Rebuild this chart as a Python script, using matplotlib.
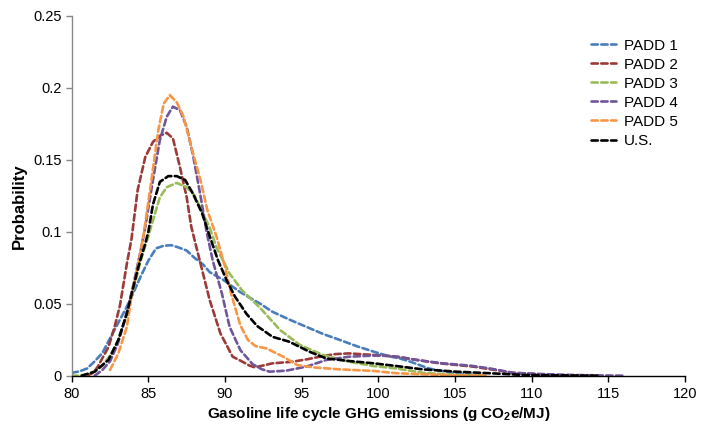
import matplotlib
matplotlib.use("Agg")
import matplotlib.pyplot as plt
from matplotlib.ticker import FixedLocator

plt.rcParams['font.family'] = ['Liberation Sans', 'DejaVu Sans']
plt.rcParams['mathtext.fontset'] = 'custom'
plt.rcParams['mathtext.rm'] = 'Liberation Sans'
plt.rcParams['mathtext.bf'] = 'Liberation Sans:bold'

# ---- data ----
padd1_x = [80, 80.5, 81, 81.5, 82, 82.5, 83, 83.5, 84, 84.5, 85, 85.5, 86, 86.5, 87, 87.5, 88, 88.6,
           89, 89.9, 91, 92.3, 93.1, 94.2, 95.3, 96.4, 97.5, 98.6, 99.7, 100.7, 101.4, 102.1, 103.3,
           104.2, 105.1, 106, 107]
padd1_y = [0.002, 0.003, 0.005, 0.010, 0.0158, 0.026, 0.036, 0.046, 0.057, 0.069, 0.080, 0.0885, 0.0903,
           0.0907, 0.089, 0.087, 0.082, 0.077, 0.072, 0.0665, 0.058, 0.050, 0.0444, 0.039, 0.034, 0.029,
           0.0248, 0.0205, 0.0167, 0.0135, 0.012, 0.0097, 0.005, 0.0032, 0.0017, 0.0008, 0.0]

padd2_x = [81.0, 81.4, 81.7, 82.4, 82.8, 83.15, 83.6, 83.9, 84.0, 84.3, 84.8, 85.3, 85.8, 86.2, 86.6,
           87.06, 87.5, 87.8, 88.4, 89.0, 89.7, 90.5, 91.0, 91.6, 91.95, 93.1, 94.4, 95.4, 96.4, 97.2,
           98.1, 99.7, 101.2, 102.5, 104.0, 106.2, 108.8, 110.5, 112]
padd2_y = [0.0, 0.002, 0.0063, 0.020, 0.034, 0.049, 0.078, 0.095, 0.1035, 0.129, 0.152, 0.1625, 0.167,
           0.1688, 0.165, 0.145, 0.124, 0.1035, 0.078, 0.0526, 0.0294, 0.0132, 0.0105, 0.0070, 0.0058,
           0.0086, 0.0097, 0.0115, 0.0137, 0.015, 0.0155, 0.0144, 0.0132, 0.011, 0.0086, 0.0063, 0.002,
           0.001, 0.0]

padd3_x = [80, 80.5, 81, 81.5, 82, 82.6, 83, 83.5, 84, 84.5, 85, 85.3, 85.75, 86.2, 86.85, 87.5, 88.0,
           88.6, 89.0, 89.45, 90.3, 91.1, 92.3, 93.6, 94.9, 96.4, 98.1, 99.7, 101.2, 102.9, 105, 107]
padd3_y = [0.0, 0.0, 0.001, 0.003, 0.007, 0.0155, 0.024, 0.040, 0.059, 0.080, 0.097, 0.108, 0.124, 0.131,
           0.134, 0.131, 0.1255, 0.112, 0.103, 0.089, 0.071, 0.0595, 0.047, 0.0317, 0.0213, 0.0144,
           0.0097, 0.0067, 0.005, 0.002, 0.0006, 0.0]

padd4_x = [81.5, 82, 82.5, 83, 83.5, 84.0, 84.5, 84.8, 85.3, 85.75, 86.2, 86.6, 87.06, 87.5, 87.9, 88.4,
           88.8, 89.2, 89.8, 90.3, 91.0, 91.8, 92.4, 92.9, 94.0, 95.3, 96.6, 98.1, 99.7, 100.7, 101.5,
           102.5, 104.2, 106.0, 107.3, 108.8, 110.5, 112.7, 114.5, 116]
padd4_y = [0.0, 0.004, 0.010, 0.022, 0.040, 0.062, 0.087, 0.1035, 0.136, 0.1637, 0.180, 0.187, 0.1845,
           0.173, 0.154, 0.125, 0.100, 0.080, 0.057, 0.034, 0.0178, 0.0080, 0.0045, 0.0028, 0.0035,
           0.0063, 0.0109, 0.0132, 0.014, 0.0138, 0.0128, 0.0109, 0.0086, 0.007, 0.005, 0.002, 0.0012,
           0.0005, 0.0002, 0.0]

padd5_x = [82.5, 83.04, 83.6, 83.9, 84.35, 84.7, 85.2, 85.65, 86.0, 86.4, 86.85, 87.3, 87.8, 88.4, 88.85,
           89.45, 90.0, 90.4, 91.0, 91.5, 92.0, 92.7, 93.8, 94.7, 95.75, 97.5, 99.7, 101.2, 102.9, 105, 107]
padd5_y = [0.004, 0.0155, 0.034, 0.055, 0.078, 0.0985, 0.136, 0.1706, 0.189, 0.195, 0.190, 0.180, 0.159,
           0.136, 0.115, 0.0965, 0.0757, 0.057, 0.035, 0.0248, 0.0205, 0.019, 0.0132, 0.0074, 0.0058,
           0.0044, 0.0033, 0.0017, 0.001, 0.0003, 0.0]

us_x = [80.65, 81.5, 82.4, 83.04, 83.6, 84.0, 84.35, 84.8, 85.0, 85.3, 85.75, 86.3, 86.85, 87.4, 87.9,
        88.5, 89.0, 89.55, 90.1, 90.65, 91.4, 92.1, 93.1, 94.2, 95.5, 96.6, 98.1, 99.7, 101.2, 102.9,
        105.1, 107.3, 109.5, 112, 114.4]
us_y = [0.0, 0.0028, 0.011, 0.0248, 0.0433, 0.0607, 0.0757, 0.092, 0.100, 0.119, 0.1347, 0.1387, 0.1387,
        0.136, 0.1267, 0.113, 0.097, 0.080, 0.0665, 0.055, 0.043, 0.0345, 0.027, 0.0236, 0.0167, 0.012,
        0.0102, 0.0086, 0.0067, 0.0044, 0.0028, 0.0017, 0.0005, 0.0002, 0.0]

series_labels = ["PADD 1", "PADD 2", "PADD 3", "PADD 4", "PADD 5", "U.S."]
series_colors = ["#4a7ebb", "#9b3a38", "#9bbb59", "#6f559a", "#f79646", "#000000"]

x_ticks = [80, 85, 90, 95, 100, 105, 110, 115, 120]
y_ticks = [0, 0.05, 0.1, 0.15, 0.2, 0.25]
y_tick_labels = ["0", "0.05", "0.1", "0.15", "0.2", "0.25"]

# ---- figure ----
fig = plt.figure(figsize=(7.01, 4.25), dpi=100)
ax = fig.add_axes([0.1023, 0.116, 0.8747, 0.8464])

data = [(padd1_x, padd1_y), (padd2_x, padd2_y), (padd3_x, padd3_y),
        (padd4_x, padd4_y), (padd5_x, padd5_y), (us_x, us_y)]
for (xs, ys), lab, col in zip(data, series_labels, series_colors):
    ax.plot(xs, ys, color=col, lw=1.9, dashes=(2.4, 1.3), label=lab,
            dash_capstyle='round', solid_joinstyle='round')

ax.set_xlim(80, 120)
ax.set_ylim(0, 0.25)
ax.xaxis.set_major_locator(FixedLocator(x_ticks))
ax.set_yticks(y_ticks)
ax.set_yticklabels(y_tick_labels)

for s in ['top', 'right']:
    ax.spines[s].set_visible(False)
ax.spines['left'].set_color('#888888')
ax.spines['bottom'].set_color('#000000')
ax.spines['left'].set_linewidth(1.0)
ax.spines['bottom'].set_linewidth(1.0)
ax.tick_params(axis='y', direction='out', length=4, width=1, color='#888888', labelsize=10.5, pad=3)
ax.tick_params(axis='x', direction='out', length=4, width=1, color='#000000', labelsize=10.5, pad=4)

ax.set_xlabel("Gasoline life cycle GHG emissions (g CO$_\\mathbf{2}$e/MJ)", fontsize=11,
              fontweight='bold', labelpad=3)
ax.set_ylabel("Probability", fontsize=12, fontweight='bold')
ax.yaxis.set_label_coords(-0.073, 0.472)

leg = fig.legend(loc='upper left', bbox_to_anchor=(0.832, 0.927), frameon=False, fontsize=11,
                 handlelength=1.65, handletextpad=0.52, labelspacing=0.33, borderpad=0)

fig.savefig("out.png", dpi=100)
